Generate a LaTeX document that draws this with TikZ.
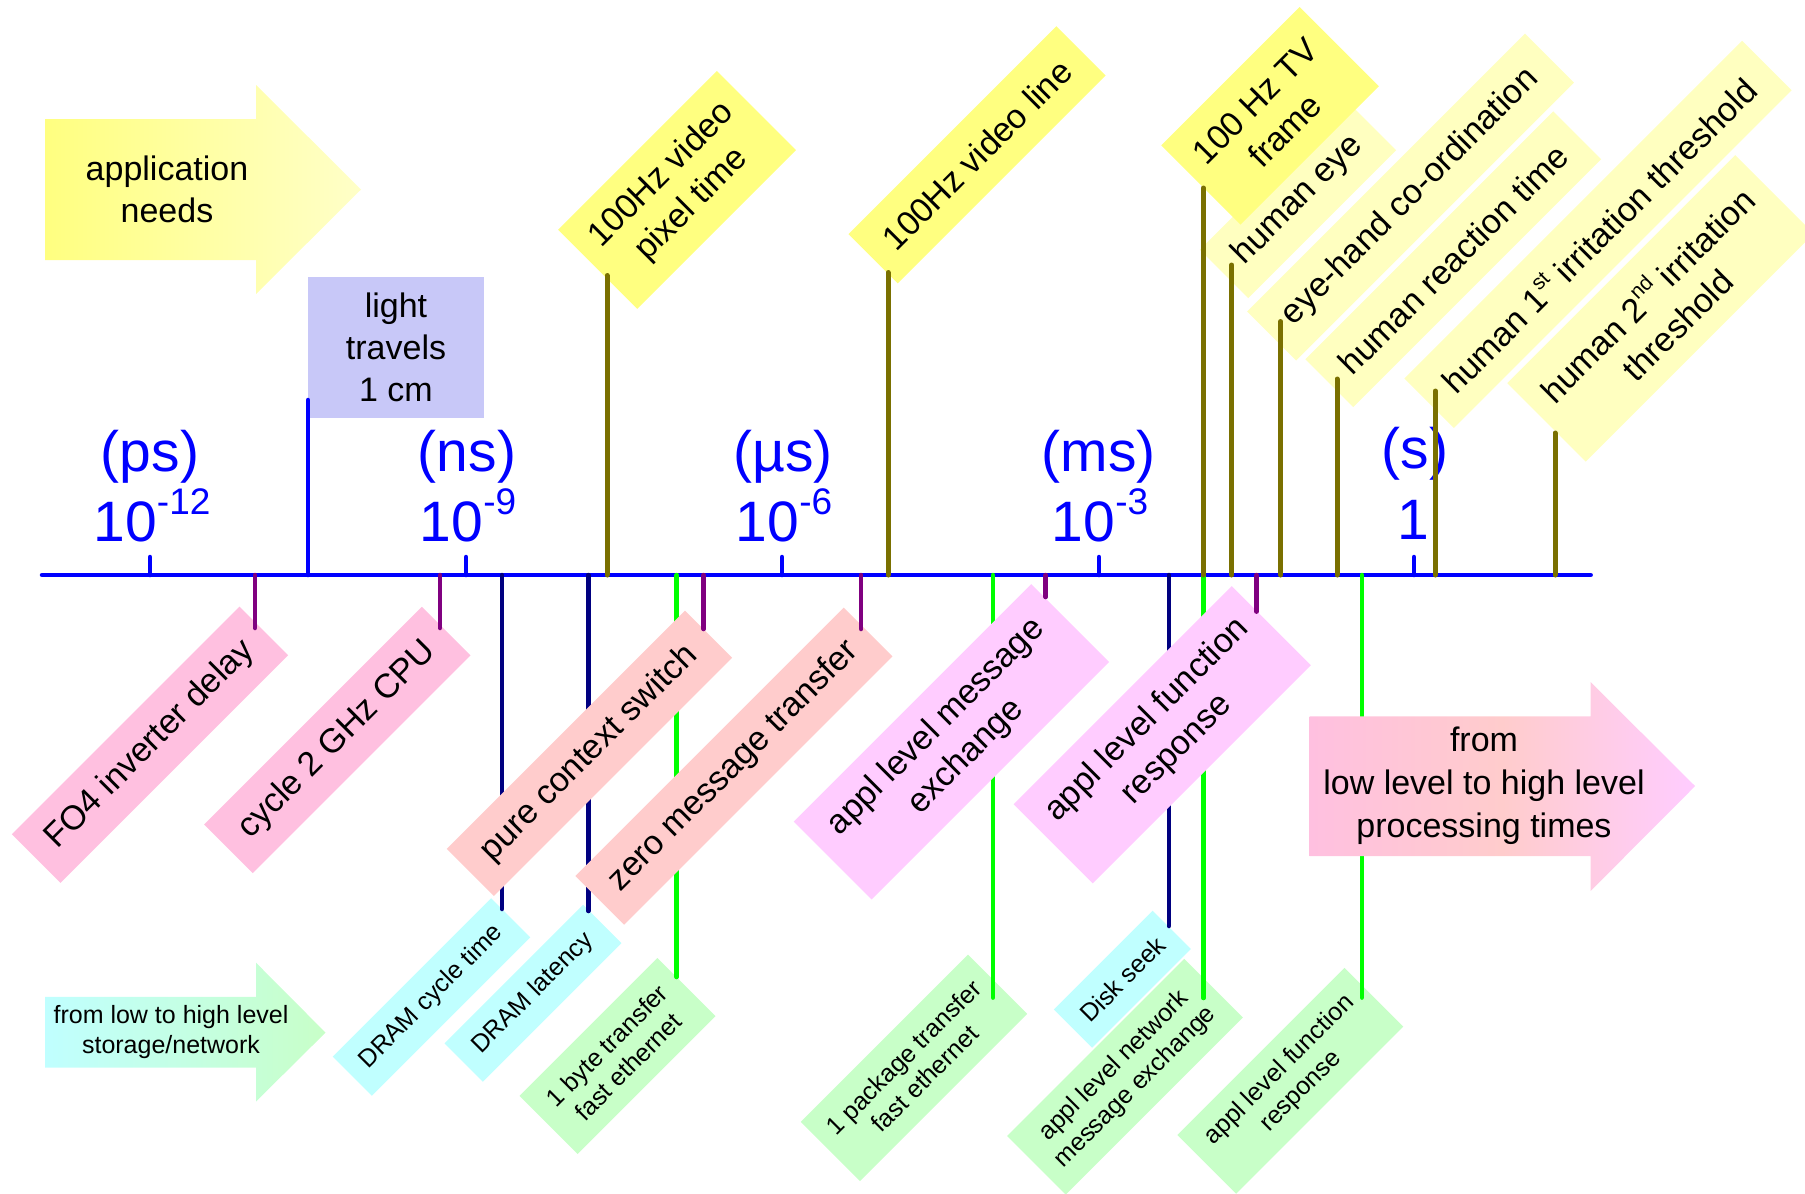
\documentclass[tikz,border=0pt]{standalone}
\usepackage{fontspec}
\setmainfont{Liberation Sans}

\definecolor{axisblue}{RGB}{0,0,255}
\definecolor{stickolive}{RGB}{122,112,0}
\definecolor{stickpurple}{RGB}{128,0,128}
\definecolor{sticknavy}{RGB}{0,0,128}
\definecolor{stickgreen}{RGB}{0,255,0}
\definecolor{ybright}{RGB}{255,255,128}
\definecolor{ypale}{RGB}{255,255,192}
\definecolor{ylight}{RGB}{255,255,200}
\definecolor{lavender}{RGB}{200,200,248}
\definecolor{pinkcpu}{RGB}{255,192,224}
\definecolor{salmon}{RGB}{255,204,204}
\definecolor{mauve}{RGB}{255,204,255}
\definecolor{cyanbox}{RGB}{192,255,255}
\definecolor{greenbox}{RGB}{200,255,200}

\newcommand\tagfont{\fontsize{34}{42}\selectfont}
\newcommand\smalltagfont{\fontsize{25}{30}\selectfont}
\newcommand\axisfont{\fontsize{57}{70}\selectfont}
\newcommand\sexp[1]{\raisebox{27pt}{\fontsize{37}{37}\selectfont #1}}
\newcommand\supx[1]{\raisebox{0.45em}{\fontsize{21}{21}\selectfont #1}}

\begin{document}
\begin{tikzpicture}[x=1pt,y=-1pt]
\tikzstyle{tag} = [rotate=45, inner sep=0pt, align=center, font=\tagfont]
\tikzstyle{tag_small} = [rotate=45, inner sep=0pt, align=center, font=\smalltagfont]
\tikzstyle{unit} = [anchor=base, inner sep=0pt, text=axisblue, font=\axisfont]
\tikzstyle{stick} = [line width=4.5pt, line cap=round]
\useasboundingbox (0,0) rectangle (1805,1194);

% side arrows
\shade[left color=ybright, right color=ylight]
  (45,119) -- (256,119) -- (256,85) -- (361,189.5) -- (256,294) -- (256,260) -- (45,260) -- cycle;
\node[align=center, font=\tagfont] (appneeds) at (167,189) {application\\needs};
\shade[left color=cyanbox, right color=greenbox]
  (45,996.8) -- (256,996.8) -- (256,962.7) -- (325.5,1032.6) -- (256,1101.5) -- (256,1067.5) -- (45,1067.5) -- cycle;
\node[align=center, font=\smalltagfont] (storage) at (171,1032.2) {from low to high level\\storage/network};

\node[fill=lavender, inner sep=0pt, minimum width=176pt, minimum height=140.5pt,
  align=center, font=\tagfont] (light) at (396,347.3) {light\\travels\\1 cm};

% application needs (upper row)
\node[tag, fill=ybright, minimum width=224.5pt, minimum height=112pt] (pixtime) at (677,190) {100Hz video\\pixel time};
\node[tag, fill=ybright, minimum width=294pt, minimum height=69.6pt] (vidline) at (977,154.8) {100Hz video line};
\node[tag, fill=ypale, minimum width=209pt, minimum height=68.5pt] (humaneye) at (1298,200) {human eye};
\node[tag, fill=ybright, minimum width=195.6pt, minimum height=112pt] (tvframe) at (1270,115.8) {100 Hz TV\\frame};
\node[tag, fill=ypale, minimum width=393pt, minimum height=69.2pt] (eyehand) at (1410.5,197.1) {eye-hand co-ordination};
\node[tag, fill=ypale, minimum width=350.5pt, minimum height=67.7pt] (reaction) at (1453.2,259.3) {human reaction time};
\node[tag, fill=ypale, minimum width=477.5pt, minimum height=70pt] (irrfirst) at (1598,234.4) {human 1\supx{st} irritation threshold};
\node[tag, fill=ypale, minimum width=322.4pt, minimum height=111pt] (irrsecond) at (1660.5,308.4) {human 2\supx{nd} irritation\\threshold};

% decades
\node[unit] (ps-name) at (150,471) {(ps)};
\node[unit] (ps-pow) at (152,541.5) {10\sexp{-12}};
\node[unit] (ns-name) at (467,471) {(ns)};
\node[unit] (ns-pow) at (468,541.5) {10\sexp{-9}};
\node[unit] (us-name) at (783,471) {(µs)};
\node[unit] (us-pow) at (784,541.5) {10\sexp{-6}};
\node[unit] (ms-name) at (1098.5,471) {(ms)};
\node[unit] (ms-pow) at (1100,541.5) {10\sexp{-3}};
\node[unit] (s-name) at (1415,468) {(s)};
\node[unit] (s-pow) at (1413,539) {1};

% time axis
\coordinate (axl) at (42,575);
\coordinate (axr) at (1590.7,575);
\draw[stick, axisblue] (axl) -- (axr);
\foreach \n/\x in {ps/150, ns/466, us/782, ms/1099, s/1414} {
  \coordinate (\n-tick) at (\x,575);
  \coordinate (\n-top) at (\x,557);
  \draw[stick, axisblue] (\n-tick) -- (\n-top);
}

% storage/network (lower row)
\node[tag_small, fill=cyanbox, minimum width=224pt, minimum height=55.4pt] (dramcyc) at (431.5,997) {DRAM cycle time};
\node[tag_small, fill=cyanbox, minimum width=196pt, minimum height=54.2pt] (dramlat) at (533,993.3) {DRAM latency};
\node[tag_small, fill=greenbox, minimum width=195pt, minimum height=82.2pt] (bytefe) at (617.5,1056) {1 byte transfer\\fast ethernet};
\node[tag_small, fill=greenbox, minimum width=236.5pt, minimum height=83.7pt] (pkgfe) at (914,1067.9) {1 package transfer\\fast ethernet};
\node[tag_small, fill=greenbox, minimum width=250.4pt, minimum height=83pt] (netmsg) at (1125,1076.7) {appl level network\\message exchange};
\node[tag_small, fill=cyanbox, minimum width=139.7pt, minimum height=54pt] (disk) at (1122.4,979.2) {Disk seek};
\node[tag_small, fill=greenbox, minimum width=236.3pt, minimum height=83.2pt] (funcnet) at (1290.3,1080.8) {appl level function\\response};

\foreach \n/\x/\y in {dramcyc/502/909, dramlat/588.3/911, disk/1168.8/926} {
  \coordinate (\n-ax) at (\x,575);
  \coordinate (\n-end) at (\x,\y);
  \draw[stick, sticknavy] (\n-ax) -- (\n-end);
}
\foreach \n/\x/\y in {bytefe/676.7/977, pkgfe/993/997.6, netmsg/1203.5/998, funcnet/1361.8/997.6} {
  \coordinate (\n-ax) at (\x,575);
  \coordinate (\n-end) at (\x,\y);
  \draw[stick, stickgreen] (\n-ax) -- (\n-end);
}

% processing (middle row)
\node[tag, fill=pinkcpu, minimum width=321.8pt, minimum height=68.8pt] (fo4) at (150,744.7) {FO4 inverter delay};
\node[tag, fill=pinkcpu, minimum width=308pt, minimum height=68.8pt] (cpu) at (337.3,740) {cycle 2 GHz CPU};
\node[tag, fill=salmon, minimum width=337pt, minimum height=66.7pt] (ctx) at (589.4,753.3) {pure context switch};
\node[tag, fill=salmon, minimum width=379.6pt, minimum height=68.8pt] (zeromsg) at (733.9,766.2) {zero message transfer};
\node[tag, fill=mauve, minimum width=336pt, minimum height=110pt] (msgx) at (951.4,741.8) {appl level message\\exchange};
\node[tag, fill=mauve, minimum width=308.4pt, minimum height=111.9pt] (funcresp) at (1162.3,734.8) {appl level function\\response};

\foreach \n/\x/\y in {fo4/255/628, cpu/440/628, ctx/703.6/629, zeromsg/861.2/629, msgx/1045.7/597, funcresp/1256.5/611.6} {
  \coordinate (\n-ax) at (\x,575);
  \coordinate (\n-end) at (\x,\y);
  \draw[stick, stickpurple] (\n-ax) -- (\n-end);
}
\foreach \n/\x/\y in {pixtime/607/275.5, vidline/888/272.5, tvframe/1203.3/188, humaneye/1231.6/265,
  eyehand/1280.7/321.5, reaction/1337/379, irrfirst/1435.3/391, irrsecond/1555/433} {
  \coordinate (\n-ax) at (\x,575);
  \coordinate (\n-end) at (\x,\y);
  \draw[stick, stickolive, line width=5pt] (\n-ax) -- (\n-end);
}
\coordinate (light-ax) at (308,575);
\coordinate (light-end) at (308,400);
\draw[stick, axisblue] (light-ax) -- (light-end);

\shade[left color=pinkcpu, right color=mauve, middle color=salmon]
  (1309.6,716.3) -- (1590.7,716.3) -- (1590.7,682.2) -- (1695.1,786.1) -- (1590.7,890.9) -- (1590.7,856) -- (1309.6,856) -- cycle;
\node[align=center, font=\fontsize{34}{43}\selectfont] (processing) at (1484,786.1) {from\\low level to high level\\processing times};
\end{tikzpicture}
\end{document}
